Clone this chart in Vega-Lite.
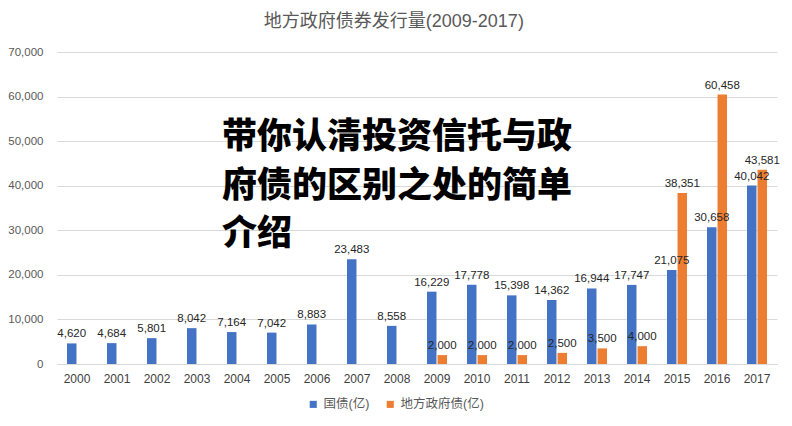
{
  "$schema": "https://vega.github.io/schema/vega-lite/v6.json",
  "autosize": "none",
  "width": 720,
  "height": 312,
  "padding": {"left": 57, "top": 52, "right": 15, "bottom": 62},
  "background": "white",
  "config": {
    "font": "Liberation Sans, Noto Sans CJK SC",
    "view": {"stroke": null},
    "axis": {"labelFont": "Liberation Sans, Noto Sans CJK SC"}
  },
  "title": {
    "text": "地方政府债券发行量(2009-2017)",
    "fontSize": 18,
    "fontWeight": "normal",
    "color": "#595959",
    "font": "Liberation Sans, Noto Sans CJK SC",
    "anchor": "middle",
    "frame": "bounds",
    "offset": 15
  },
  "data": {
    "values": [
      {"year": "2000", "series": "国债(亿)", "value": 4620},
      {"year": "2001", "series": "国债(亿)", "value": 4684},
      {"year": "2002", "series": "国债(亿)", "value": 5801},
      {"year": "2003", "series": "国债(亿)", "value": 8042},
      {"year": "2004", "series": "国债(亿)", "value": 7164},
      {"year": "2005", "series": "国债(亿)", "value": 7042},
      {"year": "2006", "series": "国债(亿)", "value": 8883},
      {"year": "2007", "series": "国债(亿)", "value": 23483},
      {"year": "2008", "series": "国债(亿)", "value": 8558},
      {"year": "2009", "series": "国债(亿)", "value": 16229},
      {"year": "2010", "series": "国债(亿)", "value": 17778},
      {"year": "2011", "series": "国债(亿)", "value": 15398},
      {"year": "2012", "series": "国债(亿)", "value": 14362},
      {"year": "2013", "series": "国债(亿)", "value": 16944},
      {"year": "2014", "series": "国债(亿)", "value": 17747},
      {"year": "2015", "series": "国债(亿)", "value": 21075},
      {"year": "2016", "series": "国债(亿)", "value": 30658},
      {"year": "2017", "series": "国债(亿)", "value": 40042},
      {"year": "2009", "series": "地方政府债(亿)", "value": 2000},
      {"year": "2010", "series": "地方政府债(亿)", "value": 2000},
      {"year": "2011", "series": "地方政府债(亿)", "value": 2000},
      {"year": "2012", "series": "地方政府债(亿)", "value": 2500},
      {"year": "2013", "series": "地方政府债(亿)", "value": 3500},
      {"year": "2014", "series": "地方政府债(亿)", "value": 4000},
      {"year": "2015", "series": "地方政府债(亿)", "value": 38351},
      {"year": "2016", "series": "地方政府债(亿)", "value": 60458},
      {"year": "2017", "series": "地方政府债(亿)", "value": 43581}
    ]
  },
  "layer": [
    {
      "mark": {"type": "bar"},
      "encoding": {
        "x": {
          "field": "year", "type": "nominal",
          "scale": {"paddingInner": 0.5, "paddingOuter": 0.25},
          "axis": {
            "title": null, "labelAngle": 0, "ticks": false,
            "domainColor": "#d9d9d9", "labelColor": "#404040",
            "labelFontSize": 12, "labelPadding": 9
          }
        },
        "y": {
          "field": "value", "type": "quantitative",
          "scale": {"domain": [0, 70000], "nice": false},
          "axis": {
            "title": null, "values": [0, 10000, 20000, 30000, 40000, 50000, 60000, 70000],
            "labelExpr": "format(datum.value, ',')", "ticks": false, "domain": false,
            "gridColor": "#d9d9d9", "labelColor": "#595959",
            "labelFontSize": 11.5, "labelPadding": 14
          }
        },
        "xOffset": {
          "field": "series", "type": "nominal",
          "scale": {"domain": ["国债(亿)", "地方政府债(亿)"], "paddingInner": 0.1}
        },
        "color": {
          "field": "series", "type": "nominal",
          "scale": {"domain": ["国债(亿)", "地方政府债(亿)"], "range": ["#4472C4", "#ED7D31"]},
          "legend": {
            "title": null, "orient": "none", "direction": "horizontal",
            "legendX": 250, "legendY": 346,
            "symbolType": "square", "symbolSize": 50,
            "labelFontSize": 12.5, "labelColor": "#595959",
            "columnPadding": 14, "symbolStrokeWidth": 0
          }
        }
      }
    },
    {
      "mark": {"type": "text", "baseline": "bottom", "dy": -4, "fontSize": 11.5, "color": "#262626"},
      "encoding": {
        "x": {"field": "year", "type": "nominal"},
        "y": {"field": "value", "type": "quantitative"},
        "xOffset": {"field": "series", "type": "nominal"},
        "text": {"field": "value", "type": "quantitative", "format": ","}
      }
    },
    {
      "data": {"values": [{"note": "带你认清投资信托与政\n府债的区别之处的简单\n介绍"}]},
      "mark": {
        "type": "text", "align": "left", "baseline": "middle",
        "lineBreak": "\n", "lineHeight": 48.5, "dx": -15,
        "font": "Noto Sans CJK SC", "fontWeight": 900, "fontSize": 35, "color": "#000000"
      },
      "encoding": {
        "x": {"datum": "2004", "type": "nominal"},
        "y": {"datum": 50900, "type": "quantitative"},
        "text": {"field": "note", "type": "nominal"}
      }
    }
  ]
}
